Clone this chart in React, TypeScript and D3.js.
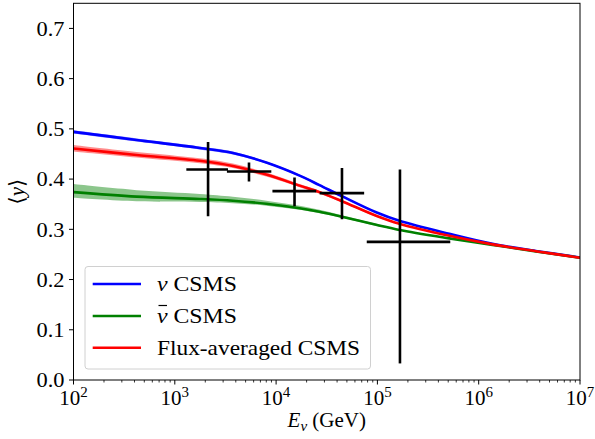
import React from "react";
import * as d3 from "d3";

// log10(E/GeV) sample points
const logE = [2.0, 2.623, 3.246, 3.574, 3.903, 4.232, 4.428, 4.65, 4.987, 5.217, 5.71, 6.136, 6.564, 7.0];
const nuCSMS = [0.494, 0.478, 0.462, 0.452, 0.433, 0.407, 0.388, 0.366, 0.334, 0.317, 0.291, 0.271, 0.257, 0.244];
const nubarCSMS = [0.374, 0.365, 0.3605, 0.357, 0.351, 0.342, 0.335, 0.325, 0.309, 0.2986, 0.282, 0.269, 0.256, 0.2435];
const fluxCSMS = [0.461, 0.448, 0.4365, 0.426, 0.409, 0.387, 0.374, 0.356, 0.327, 0.311, 0.287, 0.27, 0.2565, 0.2435];
// uncertainty band offsets (up / down)
const nuBandUp = [0.003, 0.003, 0.003, 0.003, 0.002, 0.002, 0.002, 0.002, 0.001, 0.001, 0.001, 0.001, 0.001, 0.001];
const nuBandDn = [0.003, 0.003, 0.003, 0.003, 0.002, 0.002, 0.002, 0.002, 0.001, 0.001, 0.001, 0.001, 0.001, 0.001];
const nubarBandUp = [0.016, 0.013, 0.01, 0.008, 0.006, 0.005, 0.004, 0.003, 0.002, 0.001, 0.001, 0.001, 0.001, 0.001];
const nubarBandDn = [0.011, 0.009, 0.006, 0.005, 0.004, 0.003, 0.003, 0.002, 0.002, 0.001, 0.001, 0.001, 0.001, 0.001];
const fluxBandUp = [0.007, 0.006, 0.005, 0.005, 0.004, 0.003, 0.003, 0.002, 0.002, 0.001, 0.001, 0.001, 0.001, 0.001];
const fluxBandDn = [0.006, 0.005, 0.005, 0.004, 0.004, 0.003, 0.003, 0.002, 0.002, 0.001, 0.001, 0.001, 0.001, 0.001];

// measured points (energy bins, GeV)
const dataE = [2.13e3, 5.4e3, 1.52e4, 4.47e4, 1.67e5];
const dataElo = [1.3e3, 3.27e3, 9.2e3, 2.69e4, 7.85e4];
const dataEhi = [3.35e3, 8.97e3, 2.49e4, 7.4e4, 5.24e5];
const dataY = [0.419, 0.415, 0.376, 0.372, 0.275];
const dataYlo = [0.326, 0.395, 0.346, 0.32, 0.033];
const dataYhi = [0.474, 0.433, 0.403, 0.422, 0.419];

const yTicks = [0, 0.1, 0.2, 0.3, 0.4, 0.5, 0.6, 0.7];
const xTickExps = [2, 3, 4, 5, 6, 7];

const legendLabels = ["ν CSMS", "ν CSMS", "Flux-averaged CSMS"];

const W = 595, H = 439;
const L = 73.5, R = 580, T = 3.3, B = 380;
const FONT = "'Liberation Serif', 'DejaVu Serif', serif";

export default function App() {
  const x = d3.scaleLog().domain([1e2, 1e7]).range([L, R]);
  const y = d3.scaleLinear().domain([0, 0.75]).range([B, T]);
  const E = logE.map((l) => Math.pow(10, l));

  const curve = d3.curveCatmullRom.alpha(0.5);
  const line = (vals: number[]) =>
    d3.line<number>().x((_, i) => x(E[i])).y((v) => y(v)).curve(curve)(vals) || "";
  const area = (vals: number[], up: number[], dn: number[]) =>
    d3
      .area<number>()
      .x((_, i) => x(E[i]))
      .y0((v, i) => y(v - dn[i]))
      .y1((v, i) => y(v + up[i]))
      .curve(curve)(vals) || "";

  const series = [
    { vals: nuCSMS, up: nuBandUp, dn: nuBandDn, color: "#0000ff" },
    { vals: nubarCSMS, up: nubarBandUp, dn: nubarBandDn, color: "#008000" },
    { vals: fluxCSMS, up: fluxBandUp, dn: fluxBandDn, color: "#ff0000" },
  ];

  const minorTicks: number[] = [];
  for (let e = 2; e < 7; e++) for (let k = 2; k <= 9; k++) minorTicks.push(k * Math.pow(10, e));

  const legX = 85, legY = 266.5, legW = 285.5, legH = 102.5;
  const rowY = [284, 316, 347.7];
  const textLens = [80, 80, 203];

  return (
    <svg width={W} height={H} style={{ position: "absolute", left: 0, top: 0 }} fontFamily={FONT}>
      <rect width={W} height={H} fill="white" />
      <defs>
        <clipPath id="plotclip">
          <rect x={L} y={T} width={R - L} height={B - T} />
        </clipPath>
      </defs>
      <g clipPath="url(#plotclip)">
        {series.map((s, i) => (
          <path key={"b" + i} d={area(s.vals, s.up, s.dn)} fill={s.color} fillOpacity={0.45} stroke="none" />
        ))}
        {series.map((s, i) => (
          <path key={"l" + i} d={line(s.vals)} fill="none" stroke={s.color} strokeWidth={2.6} />
        ))}
        {dataE.map((e, i) => (
          <g key={"e" + i} stroke="black" strokeWidth={2.6}>
            <line x1={x(dataElo[i])} x2={x(dataEhi[i])} y1={y(dataY[i])} y2={y(dataY[i])} />
            <line x1={x(e)} x2={x(e)} y1={y(dataYlo[i])} y2={y(dataYhi[i])} />
          </g>
        ))}
      </g>
      {/* frame */}
      <rect x={L} y={T} width={R - L} height={B - T} fill="none" stroke="black" strokeWidth={1} />
      {/* y ticks */}
      {yTicks.map((t) => (
        <g key={"yt" + t}>
          <line x1={L - 4.5} x2={L} y1={y(t)} y2={y(t)} stroke="black" strokeWidth={1} />
          <text x={L - 9} y={y(t)} dy="0.35em" textAnchor="end" fontSize={21} textLength={28} lengthAdjust="spacingAndGlyphs">
            {t.toFixed(1)}
          </text>
        </g>
      ))}
      {/* x ticks */}
      {minorTicks.map((t, i) => (
        <line key={"mt" + i} x1={x(t)} x2={x(t)} y1={B} y2={B + 2.5} stroke="black" strokeWidth={0.8} />
      ))}
      {xTickExps.map((e) => (
        <g key={"xt" + e}>
          <line x1={x(Math.pow(10, e))} x2={x(Math.pow(10, e))} y1={B} y2={B + 4.5} stroke="black" strokeWidth={1} />
          <text x={x(Math.pow(10, e))} y={405} textAnchor="middle" fontSize={21}>
            10
            <tspan dy={-8} fontSize={15}>
              {e}
            </tspan>
          </text>
        </g>
      ))}
      {/* axis labels */}
      <text x={(L + R) / 2} y={427} textAnchor="middle" fontSize={21}>
        <tspan fontStyle="italic">E</tspan>
        <tspan fontStyle="italic" fontSize={15} dy={4}>ν</tspan>
        <tspan dy={-4}> (GeV)</tspan>
      </text>
      <text transform={`translate(24,${(T + B) / 2}) rotate(-90)`} textAnchor="middle" fontSize={21}>
        ⟨<tspan fontStyle="italic">y</tspan>⟩
      </text>
      {/* legend */}
      <rect x={legX} y={legY} width={legW} height={legH} rx={3} fill="white" fillOpacity={0.8} stroke="#d0d0d0" strokeWidth={1} />
      {series.map((s, i) => (
        <g key={"lg" + i}>
          <line x1={92.7} x2={141} y1={rowY[i]} y2={rowY[i]} stroke={s.color} strokeWidth={2.6} />
          <text x={157} y={rowY[i]} dy="0.33em" fontSize={21} textLength={textLens[i]} lengthAdjust="spacingAndGlyphs">
            {i < 2 ? (
              <>
                <tspan fontStyle="italic">{legendLabels[i].split(" ")[0]}</tspan>
                <tspan> {legendLabels[i].split(" ")[1]}</tspan>
              </>
            ) : (
              legendLabels[i]
            )}
          </text>
          {i === 1 && <line x1={158.5} x2={167} y1={rowY[i] - 10.5} y2={rowY[i] - 10.5} stroke="black" strokeWidth={1.2} />}
        </g>
      ))}
    </svg>
  );
}
